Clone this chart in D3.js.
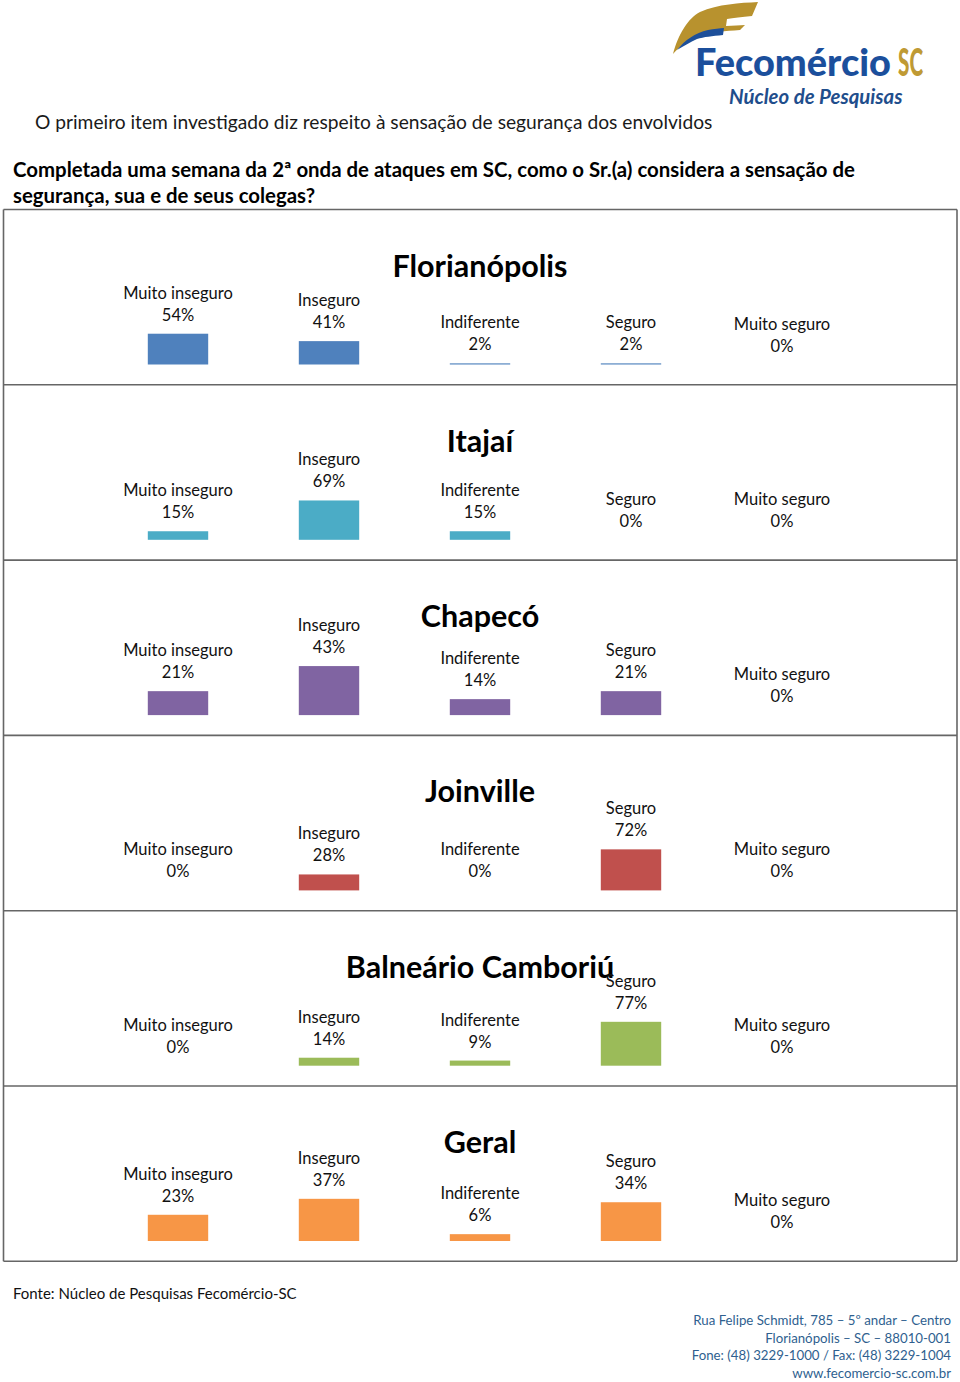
<!DOCTYPE html>
<html>
<head>
<meta charset="utf-8">
<script src="https://cdn.jsdelivr.net/npm/d3@7/dist/d3.min.js"></script>
<style>
  html, body { margin: 0; padding: 0; background: #fff; }
  svg { display: block; }
  text { font-family: Lato, "Open Sans", sans-serif; }
</style>
</head>
<body>
<div id="chart"></div>
<script>
// ---- data ----
const categories = ["Muito inseguro", "Inseguro", "Indiferente", "Seguro", "Muito seguro"];
const cities = ["Florianópolis", "Itajaí", "Chapecó", "Joinville", "Balneário Camboriú", "Geral"];
const florianopolis = [54, 41, 2, 2, 0];
const itajai = [15, 69, 15, 0, 0];
const chapeco = [21, 43, 14, 21, 0];
const joinville = [0, 28, 0, 72, 0];
const balneario = [0, 14, 9, 77, 0];
const geral = [23, 37, 6, 34, 0];
const seriesValues = [florianopolis, itajai, chapeco, joinville, balneario, geral];
const axisMax = [100, 100, 50, 100, 100, 50];
const colors = ["#4F81BD", "#4BACC6", "#8064A2", "#C0504D", "#9BBB59", "#F79646"];

const W = 960, H = 1382;
const svg = d3.select("#chart").append("svg").attr("width", W).attr("height", H);

// ---- logo ----
const logo = svg.append("g");
logo.append("path")
  .attr("d", "M673,54 C678,35 688,18 700,12 C718,4 740,3 758,2 L752,16 C742,17 733,18 727,19 L726,26 C733,26 740,25 745,25 L740,30 C725,31 712,32 702,34 C690,38 680,46 673,54 Z")
  .attr("fill", "#B8922E");
logo.append("path")
  .attr("d", "M677,50 C685,40 695,33 708,30 C714,29 720,28 724,28 L723,35 C712,36 704,37 697,39 C690,42 684,46 677,50 Z")
  .attr("fill", "#1D4F9A");
logo.append("text").attr("x", 695).attr("y", 76)
  .attr("font-size", 38).attr("font-weight", 900).attr("fill", "#1B4F9C")
  .attr("textLength", 196).attr("lengthAdjust", "spacingAndGlyphs")
  .text("Fecomércio");
logo.append("text").attr("x", 898).attr("y", 76)
  .attr("font-size", 38).attr("font-weight", 900).attr("fill", "#BF9A34")
  .attr("textLength", 25).attr("lengthAdjust", "spacingAndGlyphs")
  .text("SC");
logo.append("text").attr("x", 729).attr("y", 104)
  .attr("font-size", 20.4).attr("font-weight", 700).attr("font-style", "italic").attr("fill", "#1F4E8C")
  .text("Núcleo de Pesquisas");

// ---- header text ----
svg.append("text").attr("x", 35).attr("y", 129).attr("font-size", 19.2).attr("fill", "#1a1a1a")
  .text("O primeiro item investigado diz respeito à sensação de segurança dos envolvidos");
svg.append("text").attr("x", 13).attr("y", 177).attr("font-size", 20.4).attr("font-weight", 700).attr("fill", "#000")
  .text("Completada uma semana da 2ª onda de ataques em SC, como o Sr.(a) considera a sensação de");
svg.append("text").attr("x", 13).attr("y", 203).attr("font-size", 20.4).attr("font-weight", 700).attr("fill", "#000")
  .text("segurança, sua e de seus colegas?");

// ---- panels ----
const panelTop = 209.5, panelH = 175.3, left = 3.5, right = 957;
const x = d3.scaleBand().domain(categories).range([102.5, 857.5]).paddingInner(0.6).paddingOuter(0.3);

cities.forEach((city, i) => {
  const top = panelTop + i * panelH;
  const base = top + 155;
  const y = d3.scaleLinear().domain([0, axisMax[i]]).range([base, base - 57]);
  const g = svg.append("g");
  g.append("text").attr("x", 480).attr("y", top + 67).attr("text-anchor", "middle")
    .attr("font-size", 30.5).attr("font-weight", 700).attr("fill", "#000").text(city);
  const vals = seriesValues[i];
  categories.forEach((c, j) => {
    const v = vals[j];
    const yt = y(v);
    if (v > 0) {
      g.append("rect").attr("x", x(c)).attr("y", yt).attr("width", x.bandwidth())
        .attr("height", base - yt).attr("fill", colors[i]);
    }
    const cx = x(c) + x.bandwidth() / 2;
    g.append("text").attr("x", cx).attr("y", yt - 35).attr("text-anchor", "middle")
      .attr("font-size", 16.5).attr("fill", "#111").text(c);
    g.append("text").attr("x", cx).attr("y", yt - 13).attr("text-anchor", "middle")
      .attr("font-size", 16.5).attr("fill", "#111").text(v + "%");
  });
});

// borders
const bg = svg.append("g").attr("stroke", "#666").attr("stroke-width", 1.6).attr("fill", "none");
bg.append("line").attr("x1", left).attr("x2", left).attr("y1", panelTop).attr("y2", panelTop + 6 * panelH);
bg.append("line").attr("x1", right).attr("x2", right).attr("y1", panelTop).attr("y2", panelTop + 6 * panelH);
for (let i = 0; i <= 6; i++) {
  const yy = panelTop + i * panelH;
  bg.append("line").attr("x1", left).attr("x2", right).attr("y1", yy).attr("y2", yy);
}

// ---- footer ----
svg.append("text").attr("x", 13).attr("y", 1299).attr("font-size", 15).attr("fill", "#111")
  .text("Fonte: Núcleo de Pesquisas Fecomércio-SC");
const address = ["Rua Felipe Schmidt, 785 – 5º andar – Centro", "Florianópolis – SC – 88010-001",
  "Fone: (48) 3229-1000 / Fax: (48) 3229-1004", "www.fecomercio-sc.com.br"];
address.forEach((t, k) => {
  svg.append("text").attr("x", 951).attr("y", 1325 + k * 17.7).attr("text-anchor", "end")
    .attr("font-size", 13.25).attr("fill", "#2F5F8F").text(t);
});
</script>
</body>
</html>
